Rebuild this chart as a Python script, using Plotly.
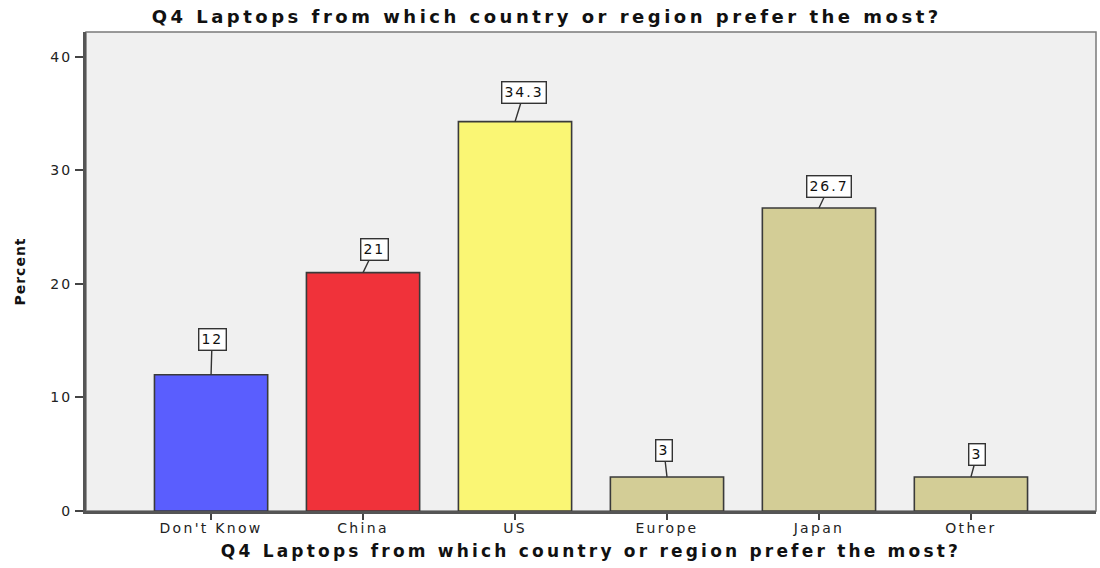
import plotly.graph_objects as go

# Survey results: preferred laptop country/region of origin (percent)
categories = ["Don't Know", "China", "US", "Europe", "Japan", "Other"]
percent = [12, 21, 34.3, 3, 26.7, 3]
value_labels = ["12", "21", "34.3", "3", "26.7", "3"]
bar_colors = ["#5A5EFE", "#F0323A", "#FAF674", "#D3CD96", "#D3CD96", "#D3CD96"]
y_ticks = [0, 10, 20, 30, 40]

question = "Q4 Laptops from which country or region prefer the most?"

# pixel offsets of each callout box relative to its bar top
label_dx = [1, 11, 9, -3, 10, 6]
label_dy = [-35, -23, -29, -26, -21, -22]

FONT = "DejaVu Sans, Verdana, sans-serif"


def spaced(text, px, bold=False):
    """Wrap text in a span with widened letter spacing."""
    inner = f"<b>{text}</b>" if bold else text
    return f'<span style="letter-spacing:{px}px">{inner}</span>'


fig = go.Figure()
fig.add_trace(go.Bar(
    x=categories,
    y=percent,
    width=0.745,
    marker=dict(color=bar_colors, line=dict(color="#3A3A3A", width=1.6)),
    hoverinfo="x+y",
))

for cat, val, txt, dx, dy in zip(categories, percent, value_labels, label_dx, label_dy):
    fig.add_annotation(
        x=cat, y=val, text=spaced(txt, 2),
        showarrow=True, arrowhead=0, arrowwidth=1.4, arrowcolor="#333333",
        ax=dx, ay=dy,
        bgcolor="white", bordercolor="#333333", borderwidth=1.4, borderpad=2,
        font=dict(family=FONT, size=14, color="#111111"),
    )

# thin grey frame around the plotting area
fig.add_shape(type="rect", xref="paper", yref="paper", x0=0, y0=0, x1=1, y1=1,
              line=dict(color="#7A7A7A", width=1.5), layer="below")

fig.update_layout(
    width=1100, height=568,
    margin=dict(l=86, r=4, t=32, b=57),
    paper_bgcolor="white",
    plot_bgcolor="#F0F0F0",
    showlegend=False,
    title=dict(
        text=spaced(question, 3.5, bold=True),
        x=0.497, xanchor="center", y=1 - 17 / 568, yanchor="middle",
        yref="container",
        font=dict(family=FONT, size=18, color="#111111"),
    ),
    font=dict(family=FONT, color="#111111"),
)

fig.update_xaxes(
    range=[-0.823, 5.823],
    tickvals=categories,
    ticktext=[spaced(c, 2.3) for c in categories],
    showgrid=False, zeroline=False,
    showline=True, linecolor="#555555", linewidth=3,
    ticks="outside", ticklen=6, tickwidth=2, tickcolor="#444444",
    ticklabelstandoff=-4,
    tickfont=dict(family=FONT, size=14, color="#222222"),
    title=dict(text=spaced(question, 3.2, bold=True), standoff=11,
               font=dict(family=FONT, size=17, color="#111111")),
)

fig.update_yaxes(
    range=[0, 42.2],
    tickvals=y_ticks,
    ticktext=[spaced(str(v), 2) for v in y_ticks],
    showgrid=False, zeroline=False,
    showline=True, linecolor="#555555", linewidth=3,
    ticks="outside", ticklen=8, tickwidth=2, tickcolor="#444444",
    tickfont=dict(family=FONT, size=14, color="#222222"),
    title=dict(text=spaced("Percent", 1, bold=True), standoff=22,
               font=dict(family=FONT, size=14, color="#111111")),
)

fig.write_html("out.html")
